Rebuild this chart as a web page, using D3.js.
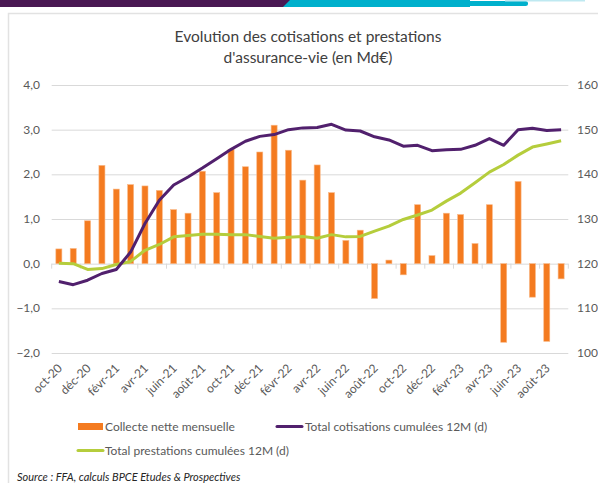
<!DOCTYPE html>
<html>
<head>
<meta charset="utf-8">
<script src="https://cdn.jsdelivr.net/npm/d3@7"></script>
<style>
  body { margin: 0; background: #fff; }
  svg { display: block; font-family: Lato, "Open Sans", sans-serif; }
</style>
</head>
<body>
<svg id="chart" width="598" height="483"></svg>
<script>
// Months (oct-20 to sept-23)
var months = ["oct-20", "nov-20", "déc-20", "janv-21", "févr-21", "mars-21", "avr-21", "mai-21",
  "juin-21", "juil-21", "août-21", "sept-21", "oct-21", "nov-21", "déc-21", "janv-22", "févr-22",
  "mars-22", "avr-22", "mai-22", "juin-22", "juil-22", "août-22", "sept-22", "oct-22", "nov-22",
  "déc-22", "janv-23", "févr-23", "mars-23", "avr-23", "mai-23", "juin-23", "juil-23", "août-23",
  "sept-23"];

// Collecte nette mensuelle (left axis, Md€)
var collecte = [0.33, 0.34, 0.96, 2.2, 1.67, 1.77, 1.74, 1.64, 1.21, 1.13, 2.07, 1.59, 2.56, 2.17,
  2.5, 3.1, 2.54, 1.87, 2.21, 1.59, 0.52, 0.75, -0.78, 0.08, -0.25, 1.32, 0.18, 1.13, 1.1, 0.45,
  1.32, -1.76, 1.84, -0.75, -1.74, -0.34];

// Total cotisations cumulées 12M (right axis)
var cotisations = [116.0, 115.3, 116.3, 117.8, 118.7, 122.6, 129.0, 134.2, 137.6, 139.4, 141.4,
  143.5, 145.6, 147.4, 148.5, 148.9, 150.0, 150.4, 150.5, 151.2, 149.9, 149.7, 148.4, 147.7,
  146.3, 146.5, 145.3, 145.5, 145.6, 146.5, 148.0, 146.5, 150.0, 150.3, 149.8, 150.0];

// Total prestations cumulées 12M (right axis)
var prestations = [120.1, 120.0, 118.7, 118.9, 119.8, 120.5, 123.0, 124.3, 126.0, 126.3, 126.6,
  126.6, 126.5, 126.5, 126.1, 125.7, 125.9, 126.1, 125.7, 126.5, 126.0, 126.1, 127.3, 128.4,
  129.9, 130.9, 132.0, 134.0, 135.8, 138.1, 140.5, 142.2, 144.3, 146.1, 146.8, 147.5];

var leftTicks = [-2, -1, 0, 1, 2, 3, 4];
var rightTicks = [100, 110, 120, 130, 140, 150, 160];

var svg = d3.select("#chart");

// Header decoration
svg.append("rect").attr("x", 0).attr("y", 0).attr("width", 290).attr("height", 7).attr("fill", "#4a1853");
svg.append("path").attr("d", "M283,7 L290,0 L470,0 L470,7 Z").attr("fill", "#00b0cc");
svg.append("rect").attr("x", 455).attr("y", 1).attr("width", 73).attr("height", 5).attr("rx", 2.5).attr("fill", "#00b0cc");
svg.append("rect").attr("x", 505).attr("y", 0).attr("width", 80).attr("height", 1.5).attr("fill", "#bfe9f1");

// Chart frame
svg.append("rect").attr("x", 8.5).attr("y", 13.5).attr("width", 600).attr("height", 480)
  .attr("fill", "none").attr("stroke", "#e2e2e2").attr("stroke-width", 1.5);

// Title
var title = svg.append("text").attr("text-anchor", "middle").attr("fill", "#404040").style("font-size", "15.5px");
title.append("tspan").attr("x", 308).attr("y", 42).text("Evolution des cotisations et prestations");
title.append("tspan").attr("x", 308).attr("y", 63).text("d'assurance-vie (en Md€)");

// Scales
var x = d3.scaleBand().domain(months).range([51.7, 568.3]).paddingInner(0.58).paddingOuter(0.29);
var yL = d3.scaleLinear().domain([-2, 4]).range([353, 85]);
var yR = d3.scaleLinear().domain([100, 160]).range([353, 85]);
var cx = function (m) { return x(m) + x.bandwidth() / 2; };

// Gridlines
svg.append("g").selectAll("line").data(leftTicks).enter().append("line")
  .attr("x1", 51.7).attr("x2", 568.3)
  .attr("y1", function (d) { return yL(d) + 0.5; }).attr("y2", function (d) { return yL(d) + 0.5; })
  .attr("stroke", "#d9d9d9").attr("stroke-width", 1);

// Left axis labels
svg.append("g").selectAll("text").data(leftTicks).enter().append("text")
  .attr("x", 40).attr("y", function (d) { return yL(d) + 4; })
  .attr("text-anchor", "end").attr("fill", "#595959").style("font-size", "12px")
  .text(function (d) { return d3.format(".1f")(d).replace(".", ","); });

// Right axis labels
svg.append("g").selectAll("text").data(rightTicks).enter().append("text")
  .attr("x", 577).attr("y", function (d) { return yR(d) + 4; })
  .attr("fill", "#595959").style("font-size", "12px")
  .text(function (d) { return d; });

// Category axis ticks every 2 months
var tickMonths = months.filter(function (d, i) { return i % 2 === 0; });
var step = x.step();
svg.append("g").selectAll("line").data(tickMonths.concat(["end"])).enter().append("line")
  .attr("x1", function (d, i) { return 51.7 + i * 2 * step; })
  .attr("x2", function (d, i) { return 51.7 + i * 2 * step; })
  .attr("y1", yL(0)).attr("y2", yL(0) + 5)
  .attr("stroke", "#d9d9d9");

// Bars
svg.append("g").selectAll("rect").data(collecte).enter().append("rect")
  .attr("x", function (d, i) { return x(months[i]); })
  .attr("width", x.bandwidth())
  .attr("y", function (d) { return Math.min(yL(d), yL(0)); })
  .attr("height", function (d) { return Math.abs(yL(d) - yL(0)); })
  .attr("fill", "#f47b20")
  .attr("stroke", "#f9b886").attr("stroke-width", 0.6);

// Lines
var line = d3.line()
  .x(function (d, i) { return cx(months[i]); })
  .y(function (d) { return yR(d); });

svg.append("path").datum(prestations).attr("d", line)
  .attr("fill", "none").attr("stroke", "#b5cd3c").attr("stroke-width", 3).attr("stroke-linejoin", "round");
svg.append("path").datum(cotisations).attr("d", line)
  .attr("fill", "none").attr("stroke", "#51206d").attr("stroke-width", 3).attr("stroke-linejoin", "round");

// X labels
svg.append("g").selectAll("text").data(tickMonths).enter().append("text")
  .attr("transform", function (d) { return "translate(" + (cx(d) + 4) + "," + 369 + ") rotate(-45)"; })
  .attr("text-anchor", "end").attr("fill", "#595959").style("font-size", "12px")
  .text(function (d) { return d; });

// Legend
var legend = svg.append("g").style("font-size", "12px").attr("fill", "#595959");
legend.append("rect").attr("x", 78).attr("y", 423).attr("width", 25).attr("height", 7).attr("fill", "#f47b20");
legend.append("text").attr("x", 105).attr("y", 431).text("Collecte nette mensuelle");
legend.append("line").attr("x1", 277).attr("x2", 302).attr("y1", 426.5).attr("y2", 426.5)
  .attr("stroke", "#51206d").attr("stroke-width", 3).attr("stroke-linecap", "round");
legend.append("text").attr("x", 305).attr("y", 431).text("Total cotisations cumulées 12M (d)");
legend.append("line").attr("x1", 78).attr("x2", 103).attr("y1", 450.5).attr("y2", 450.5)
  .attr("stroke", "#b5cd3c").attr("stroke-width", 3).attr("stroke-linecap", "round");
legend.append("text").attr("x", 105).attr("y", 455).text("Total prestations cumulées 12M (d)");

// Source
svg.append("text").attr("x", 17).attr("y", 481).attr("fill", "#262626")
  .style("font-size", "11px").style("font-style", "italic")
  .text("Source : FFA, calculs BPCE Etudes & Prospectives");
</script>
</body>
</html>
